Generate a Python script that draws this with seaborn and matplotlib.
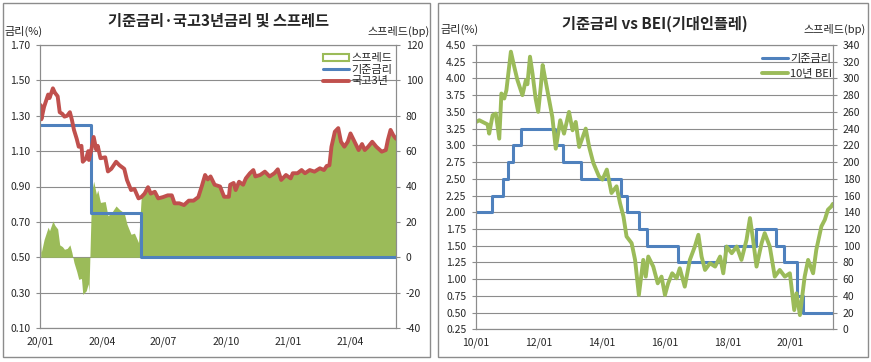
import numpy as np
import pandas as pd
import matplotlib
matplotlib.use("Agg")
import matplotlib.pyplot as plt
import matplotlib.dates as mdates
from matplotlib.patches import Rectangle, Patch
from matplotlib.lines import Line2D
import seaborn as sns

# ---------------- data: left chart ----------------
t3_dates = ["2020-01-02","2020-01-03","2020-01-07","2020-01-13","2020-01-15","2020-01-20","2020-01-23",
            "2020-01-27","2020-01-30","2020-02-03","2020-02-06","2020-02-10","2020-02-14","2020-02-17",
            "2020-02-20","2020-02-24","2020-02-27","2020-03-02","2020-03-04","2020-03-09","2020-03-12",
            "2020-03-13","2020-03-17","2020-03-20","2020-03-24","2020-03-26","2020-03-30","2020-04-06",
            "2020-04-10","2020-04-15","2020-04-22","2020-04-27","2020-05-04","2020-05-08","2020-05-14",
            "2020-05-19","2020-05-25","2020-05-29","2020-06-03","2020-06-08","2020-06-12","2020-06-18",
            "2020-06-23","2020-06-30","2020-07-07","2020-07-13","2020-07-17","2020-07-24","2020-07-31",
            "2020-08-07","2020-08-14","2020-08-21","2020-08-26","2020-08-31","2020-09-04","2020-09-08",
            "2020-09-14","2020-09-22","2020-09-28","2020-10-05","2020-10-07","2020-10-12","2020-10-15",
            "2020-10-20","2020-10-26","2020-10-30","2020-11-05","2020-11-10","2020-11-13","2020-11-20",
            "2020-11-27","2020-12-04","2020-12-11","2020-12-16","2020-12-21","2020-12-28","2021-01-04",
            "2021-01-07","2021-01-14","2021-01-20","2021-01-25","2021-02-01","2021-02-08","2021-02-16",
            "2021-02-22","2021-02-26","2021-03-02","2021-03-05","2021-03-10","2021-03-15","2021-03-19",
            "2021-03-24","2021-03-29","2021-04-02","2021-04-08","2021-04-14","2021-04-19","2021-04-23",
            "2021-04-28","2021-05-04","2021-05-10","2021-05-18","2021-05-24","2021-05-27","2021-05-31",
            "2021-06-04","2021-06-08"]
t3_values = [1.36,1.28,1.35,1.42,1.40,1.455,1.43,
             1.41,1.32,1.31,1.295,1.30,1.32,1.276,
             1.22,1.17,1.125,1.13,1.04,1.06,1.10,
             1.05,1.115,1.18,1.106,1.13,1.06,1.065,
             0.985,1.00,1.04,1.02,1.00,0.937,0.88,
             0.886,0.833,0.84,0.86,0.896,0.86,0.87,
             0.833,0.84,0.85,0.85,0.805,0.805,0.795,
             0.82,0.82,0.84,0.90,0.965,0.94,0.957,
             0.91,0.90,0.842,0.842,0.91,0.92,0.88,
             0.927,0.91,0.946,0.975,0.993,0.957,0.965,
             0.984,0.957,0.975,0.997,0.937,0.965,0.946,
             0.975,0.975,0.993,0.975,0.993,0.984,1.003,
             0.993,1.016,1.02,1.125,1.21,1.23,1.153,
             1.125,1.153,1.20,1.153,1.106,1.14,1.106,
             1.125,1.153,1.125,1.097,1.106,1.163,1.22,
             1.19,1.17]
base_l_dates = ["2020-01-01","2020-03-16","2020-05-28","2021-06-08"]
base_l_values = [1.25, 0.75, 0.50, 0.50]

left_xticks = ["2020-01-01","2020-04-01","2020-07-01","2020-10-01","2021-01-01","2021-04-01"]
left_yticks = [0.10,0.30,0.50,0.70,0.90,1.10,1.30,1.50,1.70]
left_y2ticks = [-40,-20,0,20,40,60,80,100,120]

# ---------------- data: right chart ----------------
base_r_dates = ["2010-01-01","2010-07-09","2010-11-16","2011-01-13","2011-03-10","2011-06-10",
                "2012-07-12","2012-10-11","2013-05-09","2014-08-14","2014-10-15","2015-03-12",
                "2015-06-11","2016-06-09","2017-11-30","2018-11-30","2019-07-18","2019-10-16",
                "2020-03-16","2020-05-28","2021-05-08"]
base_r_values = [2.00,2.25,2.50,2.75,3.00,3.25,3.00,2.75,2.50,2.25,2.00,1.75,1.50,1.25,1.50,1.75,
                 1.50,1.25,0.75,0.50,0.50]
bei_dates = ["2010-01-04","2010-02-08","2010-05-15","2010-06-03","2010-07-13","2010-08-19","2010-09-28",
             "2010-10-23","2010-11-25","2010-12-20",
             "2011-02-10","2011-03-21","2011-04-27","2011-06-24","2011-08-03","2011-08-21","2011-09-20",
             "2011-10-19","2011-11-24","2011-12-24",
             "2012-01-23","2012-02-14","2012-03-10","2012-04-08","2012-06-05","2012-07-15","2012-09-05",
             "2012-10-19","2012-12-16",
             "2013-01-26","2013-03-04","2013-04-13","2013-06-28","2013-08-07","2013-09-24","2013-11-28",
             "2014-01-08","2014-02-28","2014-04-23","2014-06-21","2014-07-31","2014-09-09","2014-10-15",
             "2014-12-13",
             "2015-01-22","2015-03-07","2015-04-27","2015-05-26","2015-06-24","2015-08-21","2015-10-12",
             "2015-11-25",
             "2016-01-04","2016-02-10","2016-03-28","2016-05-18","2016-06-24","2016-08-21","2016-10-19",
             "2016-12-16",
             "2017-01-26","2017-03-04","2017-04-13","2017-06-10","2017-08-08","2017-10-05","2017-11-11",
             "2017-12-20",
             "2018-02-17","2018-04-16","2018-06-10","2018-08-08","2018-09-17","2018-10-23","2018-12-02",
             "2019-01-30","2019-03-07","2019-05-05","2019-07-02","2019-08-29","2019-10-27","2019-12-24",
             "2020-02-13","2020-03-10","2020-04-19","2020-06-13","2020-07-23","2020-09-19","2020-10-26",
             "2020-12-24",
             "2021-02-02","2021-03-10","2021-04-19","2021-05-06"]
bei_bp = [248,250,245,234,256,258,228,282,276,286,
          332,314,298,280,298,293,326,306,276,260,
          290,316,302,286,254,216,250,234,260,
          238,248,218,240,218,199,183,
          179,191,163,171,151,135,111,103,
          83,41,83,63,87,75,55,63,
          41,55,67,61,73,51,83,99,
          113,87,71,79,75,87,67,99,
          91,99,83,107,133,107,75,
          103,115,99,63,71,63,67,
          23,43,17,63,83,67,95,123,
          131,143,147,150]

right_xticks = ["2010-01-01","2012-01-01","2014-01-01","2016-01-01","2018-01-01","2020-01-01"]
right_yticks = [0.25,0.50,0.75,1.00,1.25,1.50,1.75,2.00,2.25,2.50,2.75,3.00,3.25,3.50,3.75,4.00,4.25,4.50]
right_y2ticks = [0,20,40,60,80,100,120,140,160,180,200,220,240,260,280,300,320,340]

# ---------------- style ----------------
sns.set_style("white")
plt.rcParams['font.family'] = ['Noto Sans CJK KR', 'DejaVu Sans']
plt.rcParams['axes.unicode_minus'] = False

BLUE = "#4F81BD"
RED = "#C0504D"
GREEN = "#9BBB59"
GRID = "#8C8C8C"
W, H = 871, 362

def fx(x):
    return x / W

def fy(y):
    return 1 - y / H

fig = plt.figure(figsize=(W / 100, H / 100), dpi=100)
fig.patch.set_facecolor("white")

# panel frames
for (x0, y0, x1, y1) in [(3, 3, 430, 357), (438, 3, 868, 357)]:
    fig.add_artist(Rectangle((fx(x0), fy(y1)), (x1 - x0) / W, (y1 - y0) / H,
                             transform=fig.transFigure, fill=False, ec="#8C8C8C", lw=1.0))

def style_axis(ax):
    for s in ax.spines.values():
        s.set_color(GRID)
        s.set_linewidth(0.8)
    ax.tick_params(axis="both", which="both", length=3, width=0.8, color=GRID,
                   labelsize=7.5, direction="out")
    ax.tick_params(axis="y", pad=4)
    ax.tick_params(axis="x", pad=3)

# ================= LEFT CHART =================
t3_dt = pd.to_datetime(t3_dates)
bl_dt = pd.to_datetime(base_l_dates)
idx = np.searchsorted(bl_dt.values, t3_dt.values, side="right") - 1
base_at = np.array(base_l_values)[idx]
spread_bp = (np.array(t3_values) - base_at) * 100

axL = fig.add_axes([fx(40), fy(328), 356 / W, 283 / H])
ax2L = axL.twinx()
ax2L.set_zorder(0)
axL.set_zorder(1)
axL.patch.set_visible(False)
ax2L.patch.set_visible(True)
ax2L.patch.set_facecolor("white")

ax2L.set_ylim(-40, 120)
ax2L.set_yticks(left_y2ticks)
ax2L.set_yticklabels([str(v) for v in left_y2ticks])
ax2L.grid(axis="y", color=GRID, lw=0.8)
ax2L.set_axisbelow(True)
ax2L.fill_between(t3_dt, 0, spread_bp, color=GREEN, lw=0, zorder=2)

sns.lineplot(x=bl_dt, y=base_l_values, ax=axL, color=BLUE, lw=2.2, drawstyle="steps-post")
sns.lineplot(x=t3_dt, y=t3_values, ax=axL, color=RED, lw=2.8)

axL.set_ylim(0.10, 1.70)
axL.set_yticks(left_yticks)
axL.set_yticklabels([f"{v:.2f}" for v in left_yticks])
axL.set_xlim(pd.Timestamp("2020-01-01"), pd.Timestamp("2021-06-08"))
axL.set_xticks(pd.to_datetime(left_xticks))
axL.xaxis.set_major_formatter(mdates.DateFormatter("%y/%m"))
axL.set_xlabel("")
axL.set_ylabel("")
ax2L.set_ylabel("")
style_axis(axL)
style_axis(ax2L)

handlesL = [Patch(facecolor="white", edgecolor=GREEN, lw=1.5),
            Line2D([], [], color=BLUE, lw=2.2),
            Line2D([], [], color=RED, lw=2.8)]
axL.legend(handlesL, ["스프레드", "기준금리", "국고3년"], loc="upper right",
           bbox_to_anchor=(fx(392), fy(53)), bbox_transform=fig.transFigure,
           frameon=False, fontsize=8, handlelength=2.3, handleheight=0.6,
           labelspacing=0.15, borderpad=0, handletextpad=0.2, borderaxespad=0)

fig.text(fx(218), fy(21), "기준금리·국고3년금리 및 스프레드", ha="center", va="center",
         fontsize=11, fontweight="bold")
fig.text(fx(4), fy(31), "금리(%)", ha="left", va="center", fontsize=8)
fig.text(fx(430), fy(31), "스프레드(bp)", ha="right", va="center", fontsize=8)

# ================= RIGHT CHART =================
br_dt = pd.to_datetime(base_r_dates)
bei_dt = pd.to_datetime(bei_dates)

axR = fig.add_axes([fx(476), fy(329.3), 357 / W, 284.3 / H])
ax2R = axR.twinx()

axR.set_ylim(0.25, 4.50)
axR.set_yticks(right_yticks)
axR.set_yticklabels([f"{v:.2f}" for v in right_yticks])
axR.grid(axis="y", color=GRID, lw=0.8)
axR.set_axisbelow(True)

sns.lineplot(x=br_dt, y=base_r_values, ax=axR, color=BLUE, lw=2.2, drawstyle="steps-post")
sns.lineplot(x=bei_dt, y=bei_bp, ax=ax2R, color=GREEN, lw=2.8)

ax2R.set_ylim(0, 340)
ax2R.set_yticks(right_y2ticks)
ax2R.set_yticklabels([str(v) for v in right_y2ticks])
axR.set_xlim(pd.Timestamp("2010-01-01"), pd.Timestamp("2021-05-08"))
axR.set_xticks(pd.to_datetime(right_xticks))
axR.xaxis.set_major_formatter(mdates.DateFormatter("%y/%m"))
axR.set_xlabel("")
axR.set_ylabel("")
ax2R.set_xlabel("")
ax2R.set_ylabel("")
style_axis(axR)
style_axis(ax2R)

handlesR = [Line2D([], [], color=BLUE, lw=2.2),
            Line2D([], [], color=GREEN, lw=2.8)]
ax2R.legend(handlesR, ["기준금리", "10년 BEI"], loc="upper right",
            bbox_to_anchor=(fx(832), fy(54)), bbox_transform=fig.transFigure,
            frameon=False, fontsize=8, handlelength=2.3,
            labelspacing=0.45, borderpad=0, handletextpad=0.2, borderaxespad=0)

fig.text(fx(655), fy(24), "기준금리 vs BEI(기대인플레)", ha="center", va="center",
         fontsize=11, fontweight="bold")
fig.text(fx(440), fy(29), "금리(%)", ha="left", va="center", fontsize=8)
fig.text(fx(866), fy(29), "스프레드(bp)", ha="right", va="center", fontsize=8)

fig.savefig("out.png", dpi=100, facecolor="white")
